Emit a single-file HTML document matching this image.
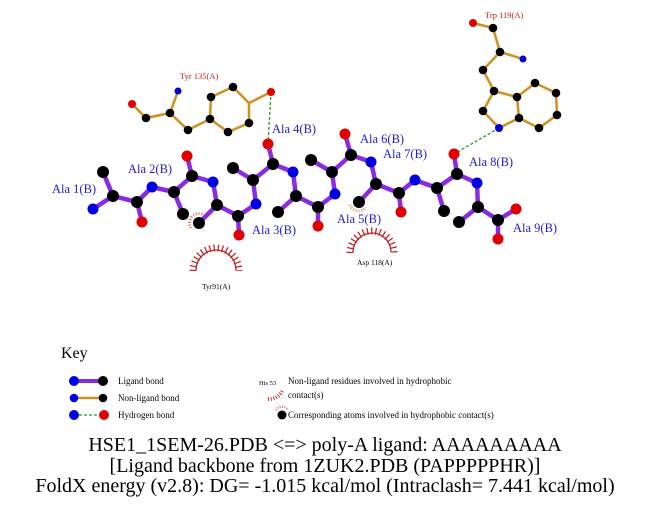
<!DOCTYPE html>
<html><head><meta charset="utf-8"><style>
html,body{margin:0;padding:0;background:#fff}
svg{display:block}
text{font-family:"Liberation Serif",serif}
</style></head><body>
<svg width="651" height="511" viewBox="0 0 651 511" xmlns="http://www.w3.org/2000/svg">
<g fill="none" stroke="#c02020">
<path d="M196,270 A20,20 0 0 1 236,270" stroke-width="1.3"/>
<path d="M193,271 A23,23 0 0 1 239,271" stroke-width="7" stroke-dasharray="1.2 3"/>
<path d="M353,252 A19,19 0 0 1 391,252" stroke-width="1.3"/>
<path d="M350,253 A22,22 0 0 1 394,253" stroke-width="7" stroke-dasharray="1.2 3"/>
<path d="M191,228 A9,9 0 0 1 207,218" stroke-width="3" stroke-dasharray="0.8 2" stroke="#d05030"/>
<path d="M350,205 A9,9 0 0 0 366,207" stroke-width="3" stroke-dasharray="0.8 2" stroke="#d08030"/>
</g>
<g stroke="#d09020" stroke-width="2.5" fill="none" stroke-linejoin="round">
<polyline points="132,104 146,118 170,113 178,91"/>
<polyline points="170,113 188,130 210,119"/>
<polygon points="210,119 211,97 233,87 249,103 249,123 228,132"/>
<line x1="249" y1="103" x2="271" y2="92"/>
<polyline points="473,23 493,28 500,52 523,59"/>
<polyline points="500,52 483,70 494,91"/>
<polygon points="494,91 483,111 499,128 519,118 517,97"/>
<polyline points="517,97 535,83 556,93 557,115 539,128 519,118"/>
</g>
<g stroke="#20a020" stroke-width="1.3" stroke-dasharray="3 2">
<line x1="271" y1="92" x2="268" y2="144"/>
<line x1="499" y1="128" x2="454" y2="154"/>
</g>
<g stroke="#8a2be2" stroke-width="4.5" fill="none" stroke-linejoin="round">
<polyline points="93,209 113,196 137,202 152,187 174,192 192,176 213,182 217,205 238,216 256,204 253,180 273,164 293,172 296,196 318,207 335,194 332,172 351,155 371,162 376,184 399,193 415,180 437,188 457,174 477,183 478,207 498,220 516,209"/>
<line x1="113" y1="196" x2="103" y2="172"/>
<line x1="137" y1="202" x2="142" y2="222"/>
<line x1="174" y1="192" x2="183" y2="214"/>
<line x1="192" y1="176" x2="187" y2="156"/>
<line x1="217" y1="205" x2="199" y2="223"/>
<line x1="238" y1="216" x2="239" y2="235"/>
<line x1="253" y1="180" x2="233" y2="168"/>
<line x1="273" y1="164" x2="268" y2="144"/>
<line x1="296" y1="196" x2="278" y2="212"/>
<line x1="318" y1="207" x2="318" y2="226"/>
<line x1="332" y1="172" x2="311" y2="160"/>
<line x1="351" y1="155" x2="345" y2="134"/>
<line x1="376" y1="184" x2="359" y2="202"/>
<line x1="399" y1="193" x2="401" y2="212"/>
<line x1="437" y1="188" x2="444" y2="211"/>
<line x1="457" y1="174" x2="454" y2="154"/>
<line x1="478" y1="207" x2="459" y2="222"/>
<line x1="498" y1="220" x2="498" y2="239"/>
</g>
<g>
<circle cx="132" cy="104" r="4" fill="#e00000"/>
<circle cx="146" cy="118" r="4.3" fill="#000"/>
<circle cx="170" cy="113" r="4.3" fill="#000"/>
<circle cx="178" cy="91" r="3.5" fill="#0000d0"/>
<circle cx="188" cy="130" r="4.3" fill="#000"/>
<circle cx="210" cy="119" r="4.3" fill="#000"/>
<circle cx="211" cy="97" r="4.3" fill="#000"/>
<circle cx="233" cy="87" r="4.3" fill="#000"/>
<circle cx="249" cy="123" r="4.3" fill="#000"/>
<circle cx="228" cy="132" r="4.3" fill="#000"/>
<circle cx="271" cy="92" r="4" fill="#e00000"/>
<circle cx="473" cy="23" r="4" fill="#e00000"/>
<circle cx="493" cy="28" r="4.3" fill="#000"/>
<circle cx="500" cy="52" r="4.3" fill="#000"/>
<circle cx="523" cy="59" r="3.5" fill="#0000d0"/>
<circle cx="483" cy="70" r="4.3" fill="#000"/>
<circle cx="494" cy="91" r="4.3" fill="#000"/>
<circle cx="483" cy="111" r="4.3" fill="#000"/>
<circle cx="499" cy="128" r="4" fill="#0000d0"/>
<circle cx="519" cy="118" r="4.3" fill="#000"/>
<circle cx="517" cy="97" r="4.3" fill="#000"/>
<circle cx="535" cy="83" r="4.3" fill="#000"/>
<circle cx="556" cy="93" r="4.3" fill="#000"/>
<circle cx="557" cy="115" r="4.3" fill="#000"/>
<circle cx="539" cy="128" r="4.3" fill="#000"/>
</g>
<g fill="#000">
<circle cx="113" cy="196" r="6"/><circle cx="103" cy="172" r="6"/><circle cx="137" cy="202" r="6"/>
<circle cx="174" cy="192" r="6"/><circle cx="183" cy="214" r="6"/><circle cx="192" cy="176" r="6"/>
<circle cx="217" cy="205" r="6"/><circle cx="199" cy="223" r="6"/><circle cx="238" cy="216" r="6"/>
<circle cx="253" cy="180" r="6"/><circle cx="233" cy="168" r="6"/><circle cx="273" cy="164" r="6"/>
<circle cx="296" cy="196" r="6"/><circle cx="278" cy="212" r="6"/><circle cx="318" cy="207" r="6"/>
<circle cx="332" cy="172" r="6"/><circle cx="311" cy="160" r="6"/><circle cx="351" cy="155" r="6"/>
<circle cx="376" cy="184" r="6"/><circle cx="359" cy="202" r="6"/><circle cx="399" cy="193" r="6"/>
<circle cx="437" cy="188" r="6"/><circle cx="444" cy="211" r="6"/><circle cx="457" cy="174" r="6"/>
<circle cx="478" cy="207" r="6"/><circle cx="459" cy="222" r="6"/><circle cx="498" cy="220" r="6"/>
</g>
<g fill="#0000e0">
<circle cx="93" cy="209" r="5.5"/><circle cx="152" cy="187" r="5.5"/><circle cx="213" cy="182" r="5.5"/>
<circle cx="256" cy="204" r="5.5"/><circle cx="293" cy="172" r="5.5"/><circle cx="335" cy="194" r="5.5"/>
<circle cx="371" cy="162" r="5.5"/><circle cx="415" cy="180" r="5.5"/><circle cx="477" cy="183" r="5.5"/>
</g>
<g fill="#e00000">
<circle cx="142" cy="222" r="5.5"/><circle cx="187" cy="156" r="5.5"/><circle cx="239" cy="235" r="5.5"/>
<circle cx="268" cy="144" r="5.5"/><circle cx="318" cy="226" r="5.5"/><circle cx="345" cy="134" r="5.5"/>
<circle cx="401" cy="212" r="5.5"/><circle cx="454" cy="154" r="5.5"/><circle cx="516" cy="209" r="5.5"/>
<circle cx="498" cy="239" r="5.5"/>
</g>
<g fill="#2020d0" font-size="12.5">
<text x="52" y="193">Ala 1(B)</text>
<text x="128" y="173">Ala 2(B)</text>
<text x="252" y="234">Ala 3(B)</text>
<text x="272" y="133">Ala 4(B)</text>
<text x="337" y="223">Ala 5(B)</text>
<text x="360" y="143">Ala 6(B)</text>
<text x="383" y="158">Ala 7(B)</text>
<text x="469" y="166">Ala 8(B)</text>
<text x="513" y="232">Ala 9(B)</text>
</g>
<g fill="#c02020" font-size="8.5">
<text x="180" y="79">Tyr 135(A)</text>
<text x="485" y="18">Trp 119(A)</text>
</g>
<g fill="#000" font-size="7.5">
<text x="202" y="289">Tyr91(A)</text>
<text x="357" y="265">Asp 118(A)</text>
</g>
<text x="61" y="358" font-size="16" fill="#000">Key</text>
<line x1="74" y1="381" x2="103" y2="381" stroke="#8a2be2" stroke-width="4"/>
<circle cx="74" cy="381" r="5" fill="#0000e0"/><circle cx="103" cy="381" r="5" fill="#000"/>
<line x1="74" y1="398" x2="103" y2="398" stroke="#d09020" stroke-width="2.5"/>
<circle cx="74" cy="398" r="4.3" fill="#0000e0"/><circle cx="103" cy="398" r="4.3" fill="#000"/>
<line x1="74" y1="415" x2="103" y2="415" stroke="#20a020" stroke-width="1.2" stroke-dasharray="3 2"/>
<circle cx="74" cy="415" r="5" fill="#0000e0"/><circle cx="104" cy="415" r="5" fill="#e00000"/>
<g font-size="9" fill="#000">
<text x="118" y="384">Ligand bond</text>
<text x="118" y="401">Non-ligand bond</text>
<text x="118" y="418">Hydrogen bond</text>
<text x="288" y="384">Non-ligand residues involved in hydrophobic</text>
<text x="288" y="398">contact(s)</text>
<text x="288" y="418">Corresponding atoms involved in hydrophobic contact(s)</text>
<text x="259" y="385" font-size="6.5">His 53</text>
</g>
<path d="M268,399 A14,12 0 0 0 282,391" fill="none" stroke="#c02020" stroke-width="4" stroke-dasharray="0.9 1.8"/>
<path d="M276,410 A7,7 0 0 1 288,410" fill="none" stroke="#d05030" stroke-width="2" stroke-dasharray="0.8 1.6"/>
<circle cx="282" cy="415" r="4.5" fill="#000"/>
<g font-size="20" fill="#000" text-anchor="middle">
<text x="325" y="451">HSE1_1SEM-26.PDB &lt;=&gt; poly-A ligand: AAAAAAAAA</text>
<text x="325" y="472">[Ligand backbone from 1ZUK2.PDB (PAPPPPPHR)]</text>
<text x="325" y="492">FoldX energy (v2.8): DG= -1.015 kcal/mol (Intraclash= 7.441 kcal/mol)</text>
</g>
</svg>
</body></html>
